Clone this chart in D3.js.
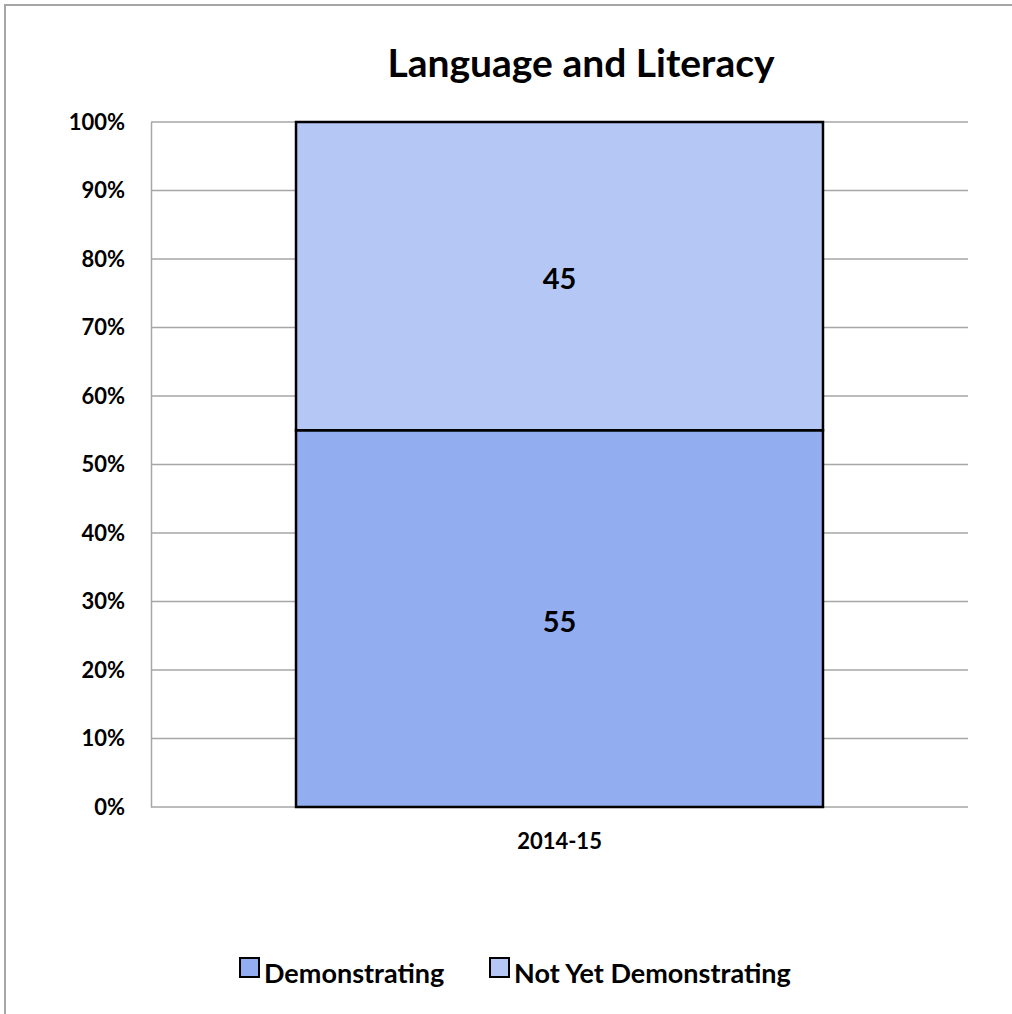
<!DOCTYPE html>
<html><head><meta charset="utf-8">
<script src="https://cdn.jsdelivr.net/npm/d3@7"></script>
<style>html,body{margin:0;padding:0;background:#fff;overflow:hidden;}svg{display:block;}</style>
</head><body>
<svg id="chart" width="1012" height="1014"></svg>
<script>
const categories = ["2014-15"];
const seriesNames = ["Demonstrating", "Not Yet Demonstrating"];
const demonstrating = [55];
const notYetDemonstrating = [45];
const yTicks = [0, 10, 20, 30, 40, 50, 60, 70, 80, 90, 100];
const colors = ["#92adf0", "#b5c7f4"];

(function () {
const svg = d3.select("#chart");
const font = "Lato, 'Open Sans', sans-serif";

// outer frame
svg.append("rect").attr("x", 5).attr("y", 5).attr("width", 1040).attr("height", 1040)
  .attr("fill", "#fff").attr("stroke", "#a6a6a6").attr("stroke-width", 2);

const pLeft = 151, pRight = 968, pTop = 122, pBottom = 807;
const x = d3.scaleBand().domain(categories).range([pLeft, pRight]).paddingInner(0.355).paddingOuter(0.1775);
const y = d3.scaleLinear().domain([0, 100]).range([pBottom, pTop]);

// gridlines
svg.append("g").selectAll("line").data(yTicks).join("line")
  .attr("x1", pLeft).attr("x2", pRight)
  .attr("y1", d => y(d)).attr("y2", d => y(d))
  .attr("stroke", "#a6a6a6").attr("stroke-width", 1.5);

// y axis
const yAxis = svg.append("g").attr("transform", `translate(${pLeft},0)`)
  .call(d3.axisLeft(y).tickValues(yTicks).tickFormat(d => d + "%").tickSize(0).tickPadding(26));
yAxis.select(".domain").attr("stroke", "#a6a6a6").attr("stroke-width", 1.5);
yAxis.selectAll("text").attr("font-family", font).attr("font-weight", "bold")
  .attr("font-size", 22).attr("fill", "#000");

// x axis labels
const xAxis = svg.append("g").attr("transform", `translate(0,${pBottom})`)
  .call(d3.axisBottom(x).tickSize(0).tickPadding(26));
xAxis.select(".domain").remove();
xAxis.selectAll("text").attr("font-family", font).attr("font-weight", "bold")
  .attr("font-size", 22).attr("fill", "#000");

// stacked data
const rows = categories.map((c, i) => ({cat: c, Demonstrating: demonstrating[i], "Not Yet Demonstrating": notYetDemonstrating[i]}));
const stacked = d3.stack().keys(seriesNames)(rows);

const layers = svg.append("g").selectAll("g").data(stacked).join("g")
  .attr("fill", (d, i) => colors[i]);
layers.selectAll("rect").data(d => d).join("rect")
  .attr("x", d => x(d.data.cat))
  .attr("width", x.bandwidth())
  .attr("y", d => y(d[1]))
  .attr("height", d => y(d[0]) - y(d[1]))
  .attr("stroke", "#000").attr("stroke-width", 2.5);

// labels
layers.selectAll("text").data(d => d.map(v => ({v, val: v[1] - v[0]}))).join("text")
  .attr("x", d => x(d.v.data.cat) + x.bandwidth() / 2)
  .attr("y", d => (y(d.v[0]) + y(d.v[1])) / 2 + 3)
  .attr("dy", "0.35em").attr("text-anchor", "middle")
  .attr("font-family", font).attr("font-weight", "bold").attr("font-size", 29).attr("fill", "#000")
  .text(d => d.val);

// title
svg.append("text").attr("x", 581).attr("y", 77).attr("text-anchor", "middle")
  .attr("font-family", font).attr("font-weight", "bold").attr("font-size", 39).attr("fill", "#000")
  .text("Language and Literacy");

// legend
const legendX = [240, 490];
const lg = svg.append("g").selectAll("g").data(seriesNames).join("g")
  .attr("transform", (d, i) => `translate(${legendX[i]},0)`);
lg.append("rect").attr("x", 0).attr("y", 958).attr("width", 19).attr("height", 19)
  .attr("fill", (d, i) => colors[i]).attr("stroke", "#000").attr("stroke-width", 2);
lg.append("text").attr("x", 24).attr("y", 983)
  .attr("font-family", font).attr("font-weight", "bold").attr("font-size", 27).attr("fill", "#000")
  .text(d => d);
})();
</script>
</body></html>
